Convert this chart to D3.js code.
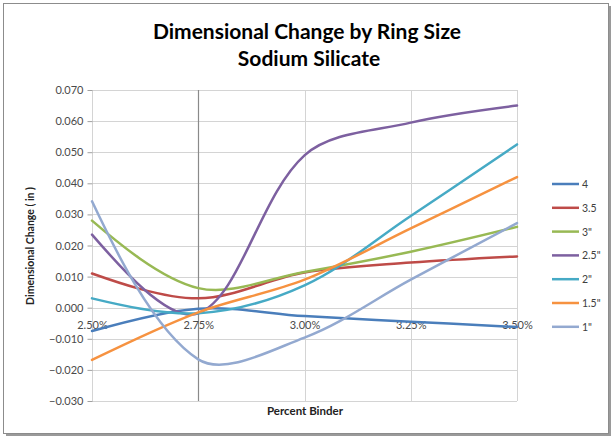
<!DOCTYPE html>
<html>
<head>
<meta charset="utf-8">
<script src="https://cdn.jsdelivr.net/npm/d3@7"></script>
<style>
  body { margin: 0; background: #fff; }
  text { font-family: Lato, "Open Sans", sans-serif; }
</style>
</head>
<body>
<svg id="chart" width="613" height="438"></svg>
<script>
// Percent binder (x) and dimensional change (in) for each ring size
const binder = [2.50, 2.75, 3.00, 3.25, 3.50];
const ringSizes = ['4', '3.5', '3"', '2.5"', '2"', '1.5"', '1"'];
const ring4   = [-0.0075, -0.0003, -0.0027, -0.0045, -0.0062];
const ring3_5 = [0.0110, 0.0030, 0.0113, 0.0145, 0.0165];
const ring3   = [0.0280, 0.0063, 0.0115, 0.0180, 0.0260];
const ring2_5 = [0.0235, -0.0018, 0.0490, 0.0595, 0.0650];
const ring2   = [0.0030, -0.0018, 0.0072, 0.0295, 0.0525];
const ring1_5 = [-0.0168, -0.0015, 0.0090, 0.0255, 0.0420];
const ring1   = [0.0342, -0.0166, -0.0096, 0.0090, 0.0272];
const seriesValues = [ring4, ring3_5, ring3, ring2_5, ring2, ring1_5, ring1];
const seriesColors = ['#4A7EBB', '#BE4B48', '#98B954', '#7D60A0', '#46AAC5', '#F69240', '#93A9D0'];
const yTickValues = [-0.03, -0.02, -0.01, 0, 0.01, 0.02, 0.03, 0.04, 0.05, 0.06, 0.07];
const xTickValues = [2.50, 2.75, 3.00, 3.25, 3.50];

const svg = d3.select('#chart');
const plot = { left: 92, right: 517, top: 90, bottom: 401 };

const x = d3.scaleLinear().domain([2.5, 3.5]).range([plot.left, plot.right]);
const y = d3.scaleLinear().domain([-0.03, 0.07]).range([plot.bottom, plot.top]);

// chart frame with a soft drop shadow on the bottom/right
svg.append('rect').attr('x', 6).attr('y', 6).attr('width', 605).attr('height', 430)
  .attr('fill', '#9a9a9a');
svg.append('rect').attr('x', 3.5).attr('y', 3.5).attr('width', 605).attr('height', 430)
  .attr('fill', '#fff').attr('stroke', '#8c8c8c').attr('stroke-width', 1);

// title
const title = svg.append('text').attr('text-anchor', 'middle')
  .attr('font-weight', 'bold').attr('font-size', 21).attr('fill', '#000');
title.append('tspan').attr('x', 307).attr('y', 39).text('Dimensional Change by Ring Size');
title.append('tspan').attr('x', 309).attr('y', 66).text('Sodium Silicate');

// horizontal gridlines
svg.append('g').selectAll('line').data(yTickValues).join('line')
  .attr('x1', plot.left).attr('x2', plot.right)
  .attr('y1', d => Math.round(y(d)) + 0.5).attr('y2', d => Math.round(y(d)) + 0.5)
  .attr('stroke', '#d4d4d4').attr('stroke-width', 1);

// vertical gridlines
svg.append('g').selectAll('line').data(xTickValues).join('line')
  .attr('x1', d => Math.round(x(d)) + 0.5).attr('x2', d => Math.round(x(d)) + 0.5)
  .attr('y1', plot.top).attr('y2', plot.bottom)
  .attr('stroke', '#d4d4d4').attr('stroke-width', 1);

// value axis crossing line at 2.75%
svg.append('line')
  .attr('x1', Math.round(x(2.75)) + 0.5).attr('x2', Math.round(x(2.75)) + 0.5)
  .attr('y1', plot.top).attr('y2', plot.bottom)
  .attr('stroke', '#8a8a8a').attr('stroke-width', 1.2);

// y axis ticks and labels
const yAxis = d3.axisLeft(y).tickValues(yTickValues).tickFormat(d3.format('.3f'))
  .tickSize(5).tickPadding(4);
const gy = svg.append('g').attr('transform', `translate(${plot.left + 0.5},0)`).call(yAxis);
gy.select('.domain').remove();
gy.selectAll('.tick line').attr('stroke', '#a0a0a0');
gy.selectAll('.tick text').attr('font-size', 11).attr('fill', '#4a4a4a')
  .attr('font-family', 'Lato, sans-serif');

// x axis labels sitting under the zero line
const xAxis = d3.axisBottom(x).tickValues(xTickValues)
  .tickFormat(d => d3.format('.2f')(d) + '%').tickSize(0).tickPadding(14);
const gx = svg.append('g').attr('transform', `translate(0,${y(0)})`).call(xAxis);
gx.select('.domain').remove();
gx.selectAll('.tick text').attr('font-size', 11).attr('fill', '#4a4a4a')
  .attr('font-family', 'Lato, sans-serif');

// axis titles
svg.append('text').attr('x', 305).attr('y', 415).attr('text-anchor', 'middle')
  .attr('font-size', 11.5).attr('font-weight', 'bold').attr('fill', '#222')
  .text('Percent Binder');
svg.append('text').attr('transform', 'translate(34,246) rotate(-90)')
  .attr('text-anchor', 'middle').attr('font-size', 10.5).attr('font-weight', 'bold')
  .attr('fill', '#222').text('Dimensional Change ( in )');

// Smoothed line: Bezier segments whose handles follow the neighbour chord
// and are scaled by the length of the adjacent segment.
function smoothPath(values, tension) {
  const pts = values.map((v, i) => [x(binder[i]), y(v)]);
  const n = pts.length;
  const before = [], after = [];
  for (let i = 0; i < n; i++) {
    const p = pts[i];
    if (i === 0 || i === n - 1) { before[i] = p; after[i] = p; continue; }
    const p0 = pts[i - 1], p2 = pts[i + 1];
    const d01 = Math.hypot(p[0] - p0[0], p[1] - p0[1]);
    const d12 = Math.hypot(p2[0] - p[0], p2[1] - p[1]);
    const fa = tension * d01 / (d01 + d12);
    const fb = tension * d12 / (d01 + d12);
    before[i] = [p[0] - fa * (p2[0] - p0[0]), p[1] - fa * (p2[1] - p0[1])];
    after[i]  = [p[0] + fb * (p2[0] - p0[0]), p[1] + fb * (p2[1] - p0[1])];
  }
  // end handles point a third of the way toward the neighbouring handle
  after[0] = [pts[0][0] + (before[1][0] - pts[0][0]) / 3, pts[0][1] + (before[1][1] - pts[0][1]) / 3];
  before[n - 1] = [pts[n - 1][0] + (after[n - 2][0] - pts[n - 1][0]) / 3,
                   pts[n - 1][1] + (after[n - 2][1] - pts[n - 1][1]) / 3];
  const path = d3.path();
  path.moveTo(pts[0][0], pts[0][1]);
  for (let i = 1; i < n; i++) {
    path.bezierCurveTo(after[i - 1][0], after[i - 1][1], before[i][0], before[i][1], pts[i][0], pts[i][1]);
  }
  return path.toString();
}

svg.append('g').selectAll('path').data(seriesValues).join('path')
  .attr('d', d => smoothPath(d, 1 / 3))
  .attr('fill', 'none')
  .attr('stroke', (d, i) => seriesColors[i])
  .attr('stroke-width', 2.5)
  .attr('stroke-linejoin', 'round')
  .attr('stroke-linecap', 'round');

// legend
const legend = svg.append('g').selectAll('g').data(ringSizes).join('g')
  .attr('transform', (d, i) => `translate(552,${184 + i * 23.8})`);
legend.append('line').attr('x1', 0).attr('x2', 27).attr('y1', 0).attr('y2', 0)
  .attr('stroke', (d, i) => seriesColors[i]).attr('stroke-width', 2.5);
legend.append('text').attr('x', 30).attr('y', 4).attr('font-size', 10.5)
  .attr('fill', '#404040').text(d => d);
</script>
</body>
</html>
